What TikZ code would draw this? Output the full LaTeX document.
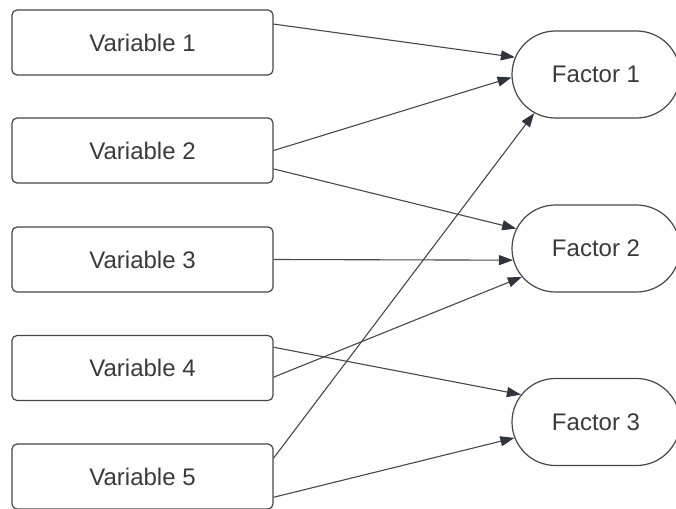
\documentclass[tikz,border=0pt]{standalone}
\usepackage{fontspec}
\setmainfont{Liberation Sans}
\usetikzlibrary{arrows.meta,shapes.misc}
\definecolor{linegray}{HTML}{474747}
\definecolor{textgray}{HTML}{3A3A3A}
\definecolor{tipgray}{HTML}{2F343D}

\begin{document}
\begin{tikzpicture}[x=1pt,y=-1pt,
  varbox/.style={draw=linegray,line width=1.2pt,rounded corners=5pt,minimum width=261pt,minimum height=65pt,inner sep=0pt,text=textgray,font=\fontsize{24}{28}\selectfont},
  factorbox/.style={draw=linegray,line width=1.2pt,rounded rectangle,minimum width=168pt,minimum height=87pt,inner sep=0pt,text=textgray,font=\fontsize{24}{28}\selectfont},
  link/.style={draw=linegray,line width=1.1pt,-{Triangle[length=14pt,width=10pt,color=tipgray]}}]
\useasboundingbox (0,0) rectangle (676,508);

% Observed variables
\node[varbox] (v1) at (142.5,42.5) {Variable 1};
\node[varbox] (v2) at (142.5,150.5) {Variable 2};
\node[varbox] (v3) at (142.5,259.5) {Variable 3};
\node[varbox] (v4) at (142.5,368) {Variable 4};
\node[varbox] (v5) at (142.5,476.5) {Variable 5};

% Latent factors
\node[factorbox] (f1) at (596,74.5) {Factor 1};
\node[factorbox] (f2) at (596,248.5) {Factor 2};
\node[factorbox] (f3) at (596,422) {Factor 3};

% Loadings
\draw[link] (v1.8) -- (f1.168);
\draw[link] (v2.0) -- (f1.182);
\draw[link] (v2.352) -- (f2.166);
\draw[link] (v3.0) -- (f2.188);
\draw[link] (v4.356) -- (f2.201);
\draw[link] (v4.9) -- (f3.160);
\draw[link] (v5.8) -- (f1.212);
\draw[link] (v5.351) -- (f3.191);
\end{tikzpicture}
\end{document}
